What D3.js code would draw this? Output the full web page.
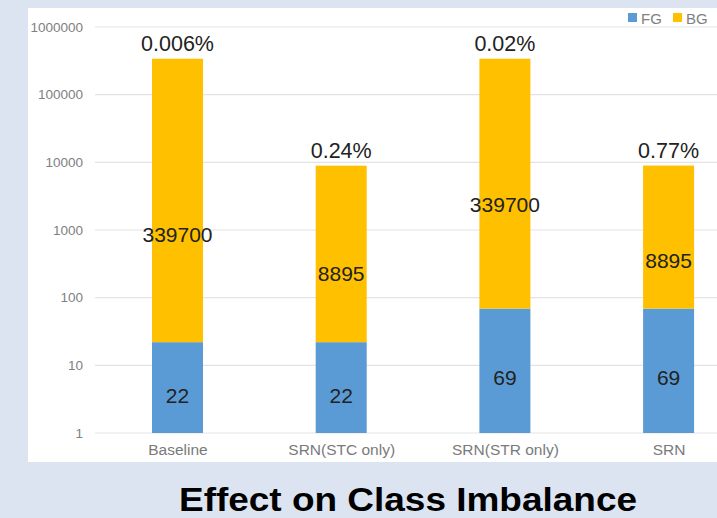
<!DOCTYPE html>
<html>
<head>
<meta charset="utf-8">
<script src="https://cdn.jsdelivr.net/npm/d3@7"></script>
<style>
  html, body { margin: 0; padding: 0; background: #dbe4f0; }
  svg { display: block; font-family: "Liberation Sans", Arial, sans-serif; }
</style>
</head>
<body>
<svg id="chart" width="717" height="518"></svg>
<script>
// Pixel counts per configuration
const categories = ["Baseline", "SRN(STC only)", "SRN(STR only)", "SRN"];
const fgValues = [22, 22, 69, 69];
const bgValues = [339700, 8895, 339700, 8895];
const ratioLabels = ["0.006%", "0.24%", "0.02%", "0.77%"];
const yTicks = [1, 10, 100, 1000, 10000, 100000, 1000000];
const seriesNames = ["FG", "BG"];

// Layout: where inside each segment the value text sits (0 = bottom, 1 = top, in screen space)
const fgLabelAt = [0.41, 0.41, 0.45, 0.45];
const bgLabelAt = [0.38, 0.39, 0.415, 0.34];

const colors = { FG: "#5b9bd5", BG: "#ffc000" };
const svg = d3.select("#chart");

// white chart panel
svg.append("rect").attr("x", 28).attr("y", 8).attr("width", 700).attr("height", 454).attr("fill", "#ffffff");

const y = d3.scaleLog().domain([1, 1e6]).range([433, 27]);
const x = d3.scalePoint().domain(categories).range([177.5, 668.6]);
const barW = 51;

// gridlines
svg.append("g").selectAll("line").data(yTicks).join("line")
  .attr("x1", 95).attr("x2", 717)
  .attr("y1", d => y(d)).attr("y2", d => y(d))
  .attr("stroke", "#e3e3e3").attr("stroke-width", 1.2);

// y axis labels
const yAxis = d3.axisLeft(y).tickValues(yTicks).tickFormat(d3.format("d")).tickSize(0).tickPadding(0);
const ya = svg.append("g").attr("transform", "translate(83,0)").call(yAxis);
ya.select(".domain").remove();
ya.selectAll("text").attr("fill", "#808080").attr("font-size", 13.5)
  .attr("font-family", "Liberation Sans, Arial, sans-serif");

// x axis labels
const xAxis = d3.axisBottom(x).tickSize(0).tickPadding(0);
const xa = svg.append("g").attr("transform", "translate(0,444)").call(xAxis);
xa.select(".domain").remove();
xa.selectAll("text").attr("fill", "#7a7a7a").attr("font-size", 15.5)
  .attr("font-family", "Liberation Sans, Arial, sans-serif");

// stacked data
const rows = categories.map((c, i) => ({ cat: c, FG: fgValues[i], BG: bgValues[i], i }));
const stacked = d3.stack().keys(seriesNames)(rows);

// log axis starts at 1, so the first segment rises from 1
const lo = v => Math.max(v, 1);

const layers = svg.append("g").selectAll("g").data(stacked).join("g")
  .attr("fill", d => colors[d.key]);
layers.selectAll("rect").data(d => d).join("rect")
  .attr("x", d => x(d.data.cat) - barW / 2)
  .attr("width", barW)
  .attr("y", d => y(d[1]))
  .attr("height", d => y(lo(d[0])) - y(d[1]));

// value labels inside segments
stacked.forEach(layer => {
  const at = layer.key === "FG" ? fgLabelAt : bgLabelAt;
  svg.append("g").selectAll("text").data(layer).join("text")
    .attr("x", d => x(d.data.cat))
    .attr("y", (d, i) => {
      const b = y(lo(d[0])), t = y(d[1]);
      return b + (t - b) * at[i];
    })
    .attr("dy", "0.36em")
    .attr("text-anchor", "middle")
    .attr("font-size", 21)
    .attr("fill", "#222222")
    .text(d => d.data[layer.key]);
});

// ratio labels above each bar
const topLayer = stacked[stacked.length - 1];
svg.append("g").selectAll("text").data(topLayer).join("text")
  .attr("x", d => x(d.data.cat))
  .attr("y", d => y(d[1]) - 15)
  .attr("dy", "0.36em")
  .attr("text-anchor", "middle")
  .attr("font-size", 21.5)
  .attr("fill", "#222222")
  .text((d, i) => ratioLabels[i]);

// legend
const legend = svg.append("g");
const legendX = [628, 673];
seriesNames.forEach((s, i) => {
  legend.append("rect").attr("x", legendX[i]).attr("y", 13).attr("width", 9).attr("height", 9).attr("fill", colors[s]);
  legend.append("text").attr("x", legendX[i] + 13).attr("y", 23.5)
    .attr("font-size", 15).attr("fill", "#808080").text(s);
});

// title
svg.append("text").attr("x", 408).attr("y", 511)
  .attr("text-anchor", "middle")
  .attr("font-size", 33).attr("font-weight", "bold")
  .attr("textLength", 458).attr("lengthAdjust", "spacingAndGlyphs")
  .attr("fill", "#000000")
  .text("Effect on Class Imbalance");
</script>
</body>
</html>
